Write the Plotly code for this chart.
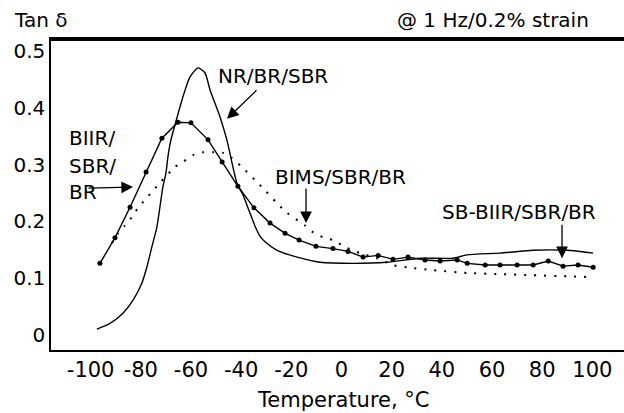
import plotly.graph_objects as go

# ---- data ----
temp_nr = [-97.5, -92.3, -87.1, -83.1, -79.6, -77.6, -75.6, -73.6, -72.4, -71.2, -70.0, -69.2,
           -68.0, -66.4, -63.2, -60.4, -57.2, -54.4, -52.4, -48.4, -45.7, -41.7, -39.3, -36.5,
           -34.5, -32.5, -30.5, -25.7, -17.7, -8.6, 4.6, 18.1, 31.3, 44.5, 50.0, 63.2, 76.4,
           89.9, 100.3]
tan_nr = [0.010, 0.020, 0.038, 0.061, 0.091, 0.119, 0.155, 0.190, 0.225, 0.261, 0.285, 0.314,
          0.344, 0.370, 0.420, 0.455, 0.471, 0.462, 0.432, 0.384, 0.344, 0.268, 0.247, 0.215,
          0.192, 0.174, 0.164, 0.149, 0.137, 0.128, 0.126, 0.128, 0.135, 0.135, 0.141, 0.144,
          0.149, 0.149, 0.144]

temp_biir = [-96.3, -90.3, -84.3, -77.9, -71.6, -65.2, -60.0, -53.2, -47.6, -41.3, -34.9, -28.5,
             -22.5, -16.9, -10.2, -3.4, 2.6, 8.6, 14.6, 20.5, 26.5, 33.3, 39.3, 46.1, 50.1,
             57.3, 63.2, 70.0, 76.4, 82.4, 88.3, 94.3, 100.3]
tan_biir = [0.126, 0.171, 0.225, 0.287, 0.347, 0.375, 0.374, 0.344, 0.305, 0.262, 0.224, 0.197,
            0.179, 0.167, 0.156, 0.152, 0.147, 0.137, 0.140, 0.133, 0.137, 0.132, 0.130, 0.132,
            0.126, 0.123, 0.123, 0.123, 0.123, 0.130, 0.121, 0.123, 0.119]

temp_bims = [-91.5, -89.1, -86.3, -83.5, -81.1, -78.3, -75.6, -72.4, -66.4, -63.2, -59.2, -55.2,
             -51.2, -47.2, -43.7, -39.7, -34.5, -30.5, -25.7, -21.7, -14.6, -11.4, -7.4, -3.4,
             2.2, 7.4, 14.2, 20.5, 26.1, 36.5, 50.0, 63.2, 76.4, 89.9, 97.9]
tan_bims = [0.162, 0.179, 0.193, 0.208, 0.224, 0.238, 0.252, 0.268, 0.296, 0.305, 0.317, 0.322,
            0.322, 0.321, 0.312, 0.296, 0.273, 0.255, 0.232, 0.215, 0.193, 0.181, 0.172, 0.167,
            0.153, 0.144, 0.135, 0.123, 0.119, 0.114, 0.109, 0.107, 0.105, 0.103, 0.102]

x_tick_vals = [-100, -80, -60, -40, -20, 0, 20, 40, 60, 80, 100]
x_tick_labels = ["-100", "-80", "-60", "-40", "-20", "0", "20", "40", "60", "80", "100"]
y_tick_vals = [0, 0.1, 0.2, 0.3, 0.4, 0.5]
y_tick_labels = ["0", "0.1", "0.2", "0.3", "0.4", "0.5"]

FONT = "DejaVu Sans"

fig = go.Figure()
fig.add_trace(go.Scatter(x=temp_nr, y=tan_nr, mode="lines",
                         line=dict(color="black", width=1.4, shape="spline", smoothing=0.6),
                         name="NR/BR/SBR", showlegend=False))
fig.add_trace(go.Scatter(x=temp_bims, y=tan_bims, mode="lines",
                         line=dict(color="black", width=2, dash="2px,8px", shape="spline", smoothing=0.6),
                         name="BIMS/SBR/BR", showlegend=False))
fig.add_trace(go.Scatter(x=temp_biir, y=tan_biir, mode="lines+markers",
                         line=dict(color="black", width=1.4),
                         marker=dict(color="black", size=5),
                         name="BIIR/SBR/BR", showlegend=False))

annotations = []
def txt(s, x, y, xanchor="center", size=20):
    annotations.append(dict(text=s, x=x, y=y, xref="paper", yref="paper", xanchor=xanchor,
                            yanchor="middle", showarrow=False,
                            font=dict(family=FONT, size=size, color="black")))

# pixel -> paper helpers (plot area 51..624 x 39..350)
def px(p):
    return (p - 51) / 573.0
def py(p):
    return (350 - p) / 311.0

txt("Tan δ", px(12), py(20), xanchor="left")
txt("@ 1 Hz/0.2% strain", px(591), py(20), xanchor="right")
txt("Temperature, °C", px(343.5), py(399.5), size=21)
txt("NR/BR/SBR", px(272.5), py(76))
txt("BIIR/", px(67), py(138), xanchor="left")
txt("SBR/", px(67), py(166), xanchor="left")
txt("BR", px(67), py(192.5), xanchor="left")
txt("BIMS/SBR/BR", px(340), py(177))
txt("SB-BIIR/SBR/BR", px(519), py(212))

def arrow(x, y, ax, ay):
    annotations.append(dict(text="", x=x, y=y, xref="x", yref="y", ax=ax, ay=ay,
                            showarrow=True, arrowhead=2, arrowsize=1.8, arrowwidth=1.3,
                            arrowcolor="black", standoff=0))

arrow(-45.65, 0.381, 31, -30)
arrow(-83.1, 0.2606, -46, 1)
arrow(-14.15, 0.197, 0, -36)
arrow(87.9, 0.135, 0, -35)

fig.update_layout(
    template="none",
    width=624, height=413,
    margin=dict(l=51, r=0, t=39, b=63),
    paper_bgcolor="white", plot_bgcolor="white",
    font=dict(family=FONT, color="black"),
    annotations=annotations,
    shapes=[dict(type="line", xref="paper", yref="paper", x0=0, x1=1, y0=0.997, y1=0.997,
                 line=dict(color="black", width=2), layer="above")],
    xaxis=dict(range=[-115.8, 112.6], tickvals=x_tick_vals, ticktext=x_tick_labels,
               showgrid=False, zeroline=False, showline=True, mirror=True,
               linecolor="black", linewidth=1.5, ticks="", automargin=False,
               tickfont=dict(family=FONT, size=21, color="black")),
    yaxis=dict(range=[-0.027, 0.522], tickvals=y_tick_vals, ticktext=y_tick_labels,
               showgrid=False, zeroline=False, showline=True, mirror=False,
               linecolor="black", linewidth=1.5, ticks="", automargin=False,
               tickfont=dict(family=FONT, size=20, color="black")),
)

fig.write_html("out.html", config={"displayModeBar": False},
               post_script="document.body.style.margin='0';document.body.style.overflow='hidden';")
